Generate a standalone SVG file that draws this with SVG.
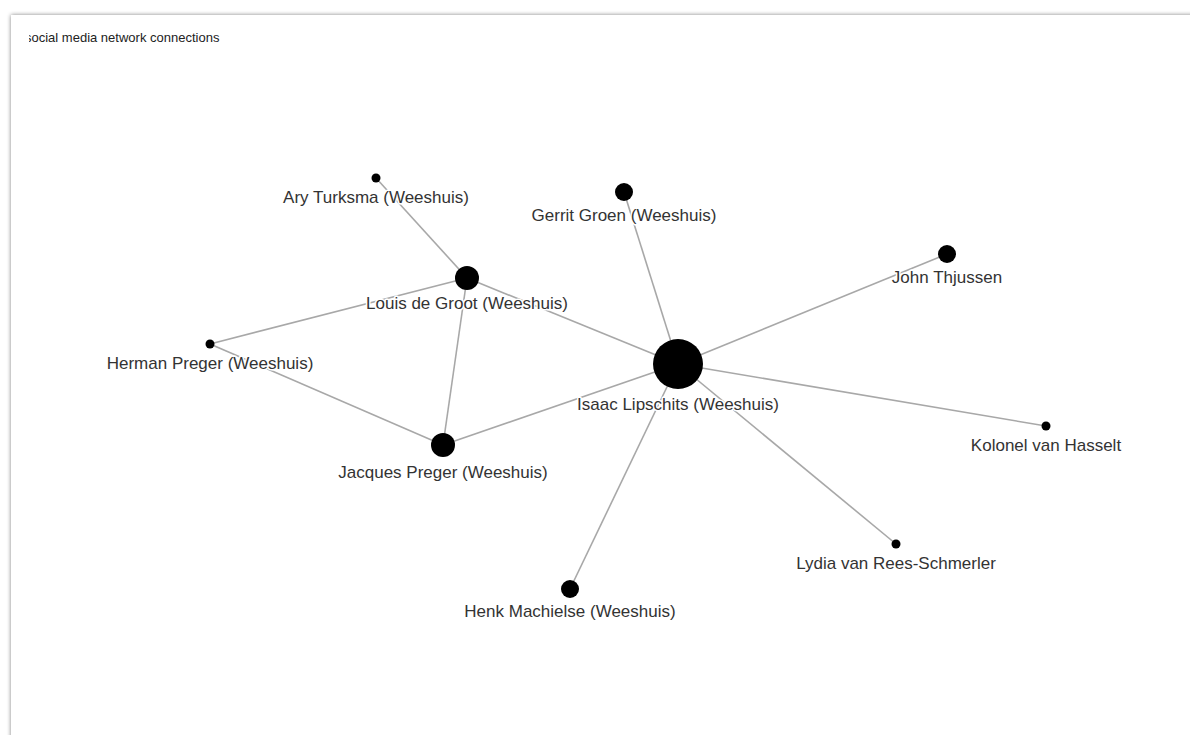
<svg xmlns="http://www.w3.org/2000/svg" width="1190" height="735" viewBox="0 0 1190 735">
<defs>
<style>
.edge{stroke:#a8a8a8;stroke-width:1.6;fill:none}
.node circle{fill:#000}
.node text{font-family:"Liberation Sans",Arial,sans-serif;font-size:17px;fill:#333;text-anchor:middle;stroke:#fff;stroke-width:3;paint-order:stroke;stroke-linejoin:round}
.title{font-family:"Liberation Sans",Arial,sans-serif;font-size:13px;fill:#222}
</style>
<filter id="sh" x="-5%" y="-5%" width="110%" height="110%">
<feGaussianBlur in="SourceAlpha" stdDeviation="2"/>
<feOffset dx="0" dy="0"/>
<feComponentTransfer><feFuncA type="linear" slope="0.5"/></feComponentTransfer>
<feMerge><feMergeNode/><feMergeNode in="SourceGraphic"/></feMerge>
</filter>
<clipPath id="tc"><rect x="29" y="20" width="400" height="40"/></clipPath>
</defs>
<rect width="1190" height="735" fill="#fff"/>
<rect x="11" y="15" width="1200" height="740" fill="#fff" filter="url(#sh)"/>
<text class="title" x="25" y="42" clip-path="url(#tc)">social media network connections</text>
<g id="edges">
<line class="edge" x1="376" y1="178" x2="467" y2="278"/>
<line class="edge" x1="467" y1="278" x2="210" y2="344"/>
<line class="edge" x1="467" y1="278" x2="443" y2="445"/>
<line class="edge" x1="467" y1="278" x2="678" y2="364"/>
<line class="edge" x1="210" y1="344" x2="443" y2="445"/>
<line class="edge" x1="443" y1="445" x2="678" y2="364"/>
<line class="edge" x1="624" y1="192" x2="678" y2="364"/>
<line class="edge" x1="947" y1="254" x2="678" y2="364"/>
<line class="edge" x1="1046" y1="426" x2="678" y2="364"/>
<line class="edge" x1="896" y1="544" x2="678" y2="364"/>
<line class="edge" x1="570" y1="589" x2="678" y2="364"/>
</g>
<g id="node-ary" class="node"><circle cx="376" cy="178" r="4.5"/><text x="376" y="203">Ary Turksma (Weeshuis)</text></g>
<g id="node-gerrit" class="node"><circle cx="624" cy="192" r="9"/><text x="624" y="221">Gerrit Groen (Weeshuis)</text></g>
<g id="node-john" class="node"><circle cx="947" cy="254" r="9"/><text x="947" y="283">John Thjussen</text></g>
<g id="node-louis" class="node"><circle cx="467" cy="278" r="12"/><text x="467" y="309">Louis de Groot (Weeshuis)</text></g>
<g id="node-herman" class="node"><circle cx="210" cy="344" r="4.5"/><text x="210" y="369">Herman Preger (Weeshuis)</text></g>
<g id="node-isaac" class="node"><circle cx="678" cy="364" r="25"/><text x="678" y="410">Isaac Lipschits (Weeshuis)</text></g>
<g id="node-kolonel" class="node"><circle cx="1046" cy="426" r="4.5"/><text x="1046" y="451">Kolonel van Hasselt</text></g>
<g id="node-jacques" class="node"><circle cx="443" cy="445" r="12"/><text x="443" y="478">Jacques Preger (Weeshuis)</text></g>
<g id="node-lydia" class="node"><circle cx="896" cy="544" r="4.5"/><text x="896" y="569">Lydia van Rees-Schmerler</text></g>
<g id="node-henk" class="node"><circle cx="570" cy="589" r="9"/><text x="570" y="617">Henk Machielse (Weeshuis)</text></g>
</svg>
